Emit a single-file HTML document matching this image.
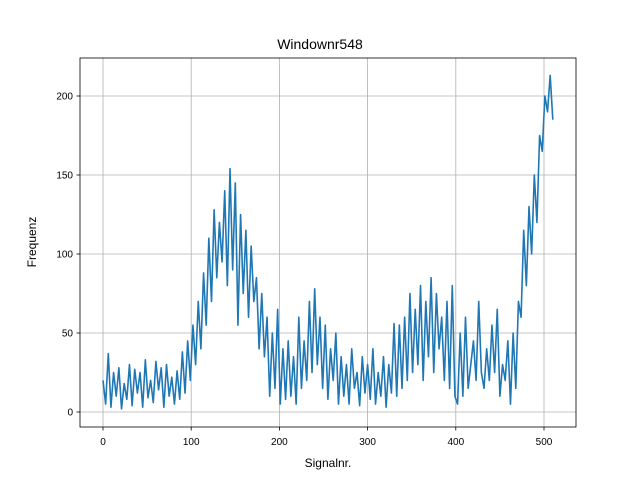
<!DOCTYPE html>
<html><head><meta charset="utf-8"><style>
body{margin:0;background:#fff;}
svg{display:block;font-family:"Liberation Sans","DejaVu Sans",sans-serif;}
</style></head><body>
<svg id="chart" width="640" height="480">
<rect x="0" y="0" width="640" height="480" fill="#fff"/>
<g id="grid"></g>
<g id="series"></g>
<rect x="80" y="58" width="496" height="369" fill="none" stroke="#000" stroke-width="0.8"/>
<g id="ticks"></g>
<text x="320" y="49" font-size="14" text-anchor="middle">Windownr548</text>
<text x="328" y="467" font-size="12" text-anchor="middle">Signalnr.</text>
<text transform="translate(36,242) rotate(-90)" font-size="12" text-anchor="middle">Frequenz</text>
</svg>
<script>
const values = [20,5,37,3,25,10,28,2,18,8,30,4,27,12,25,3,33,9,20,6,32,14,28,3,30,10,22,5,26,8,
38,12,45,20,55,30,70,
40,88,55,110,70,128,85,120,95,140,80,154,90,145,
55,125,75,115,60,105,70,85,40,75,
35,60,10,50,15,65,5,40,8,45,
10,35,5,60,15,45,20,70,25,78,
30,60,15,55,8,40,20,50,5,35,
10,30,5,40,15,25,4,35,12,30,
8,40,5,25,10,35,3,30,12,56,
10,55,15,60,20,75,25,65,30,80,
20,70,35,85,25,75,40,60,20,70,15,80,10,
5,50,10,60,15,30,45,20,70,25,
15,40,20,55,25,65,10,30,20,45,
5,50,15,
70,60,115,80,130,100,150,
120,175,165,200,190,213,185];
const xMax = 510;
const xTicks = [0,100,200,300,400,500];
const yTicks = [0,50,100,150,200];
const NS = "http://www.w3.org/2000/svg";
function xs(v){return 103 + v*(544-103)/500;}
function ys(v){return 412 - v*(412-96)/200;}
const grid = document.getElementById('grid');
const ticks = document.getElementById('ticks');
xTicks.forEach(t=>{
  const l=document.createElementNS(NS,'line');
  l.setAttribute('x1',xs(t));l.setAttribute('x2',xs(t));l.setAttribute('y1',58);l.setAttribute('y2',427);
  l.setAttribute('stroke','#b0b0b0');l.setAttribute('stroke-width','0.8');
  
  
  grid.appendChild(l);
  const tk=document.createElementNS(NS,'line');
  tk.setAttribute('x1',xs(t));tk.setAttribute('x2',xs(t));tk.setAttribute('y1',427);tk.setAttribute('y2',430.5);
  tk.setAttribute('stroke','#000');tk.setAttribute('stroke-width','0.8');
  
  
  ticks.appendChild(tk);
  const tx=document.createElementNS(NS,'text');
  tx.setAttribute('x',xs(t));tx.setAttribute('y',445);tx.setAttribute('font-size','10');tx.setAttribute('text-anchor','middle');
  tx.textContent=t;
  
  
  ticks.appendChild(tx);
});
yTicks.forEach(t=>{
  const l=document.createElementNS(NS,'line');
  l.setAttribute('x1',80);l.setAttribute('x2',576);l.setAttribute('y1',ys(t));l.setAttribute('y2',ys(t));
  l.setAttribute('stroke','#b0b0b0');l.setAttribute('stroke-width','0.8');
  
  
  grid.appendChild(l);
  const tk=document.createElementNS(NS,'line');
  tk.setAttribute('x1',76.5);tk.setAttribute('x2',80);tk.setAttribute('y1',ys(t));tk.setAttribute('y2',ys(t));
  tk.setAttribute('stroke','#000');tk.setAttribute('stroke-width','0.8');
  
  
  ticks.appendChild(tk);
  const tx=document.createElementNS(NS,'text');
  tx.setAttribute('x',73);tx.setAttribute('y',ys(t)+3.5);tx.setAttribute('font-size','10');tx.setAttribute('text-anchor','end');
  tx.textContent=t;
  
  
  ticks.appendChild(tx);
});
const n=values.length;
const pts=values.map((v,i)=>xs(i*xMax/(n-1)).toFixed(2)+','+ys(v).toFixed(2)).join(' ');
const pl=document.createElementNS(NS,'polyline');
pl.setAttribute('points',pts);
pl.setAttribute('fill','none');pl.setAttribute('stroke','#1f77b4');pl.setAttribute('stroke-width','1.6');pl.setAttribute('stroke-linejoin','round');


document.getElementById('series').appendChild(pl);
</script>
</body></html>
